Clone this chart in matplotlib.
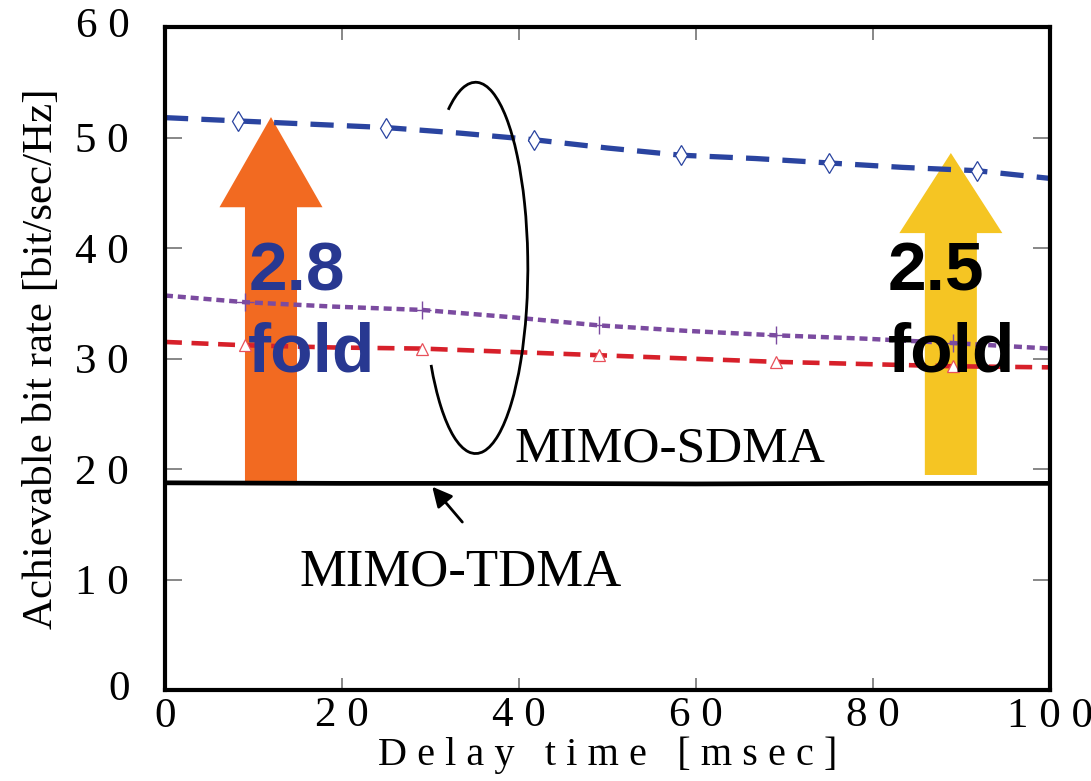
import numpy as np
import matplotlib
matplotlib.use('Agg')
import matplotlib.pyplot as plt
from matplotlib.patches import Arc, FancyArrow

plt.rcParams['font.family'] = ['Liberation Serif', 'DejaVu Serif']

# data
x_blue = [0, 8.3, 16.7, 25, 33.3, 41.7, 50, 58.3, 66.7, 75, 83.3, 91.7, 100]
y_blue = [51.8, 51.5, 51.2, 50.9, 50.4, 49.8, 49.05, 48.4, 48.1, 47.7, 47.3,
          47.0, 46.3]

x_pr = [0, 9, 19, 29, 39, 49, 59, 69, 79, 89, 100]
y_purple = [35.7, 35.1, 34.7, 34.4, 33.75, 33.0, 32.5, 32.1, 31.8, 31.4, 30.9]
y_red = [31.5, 31.2, 31.0, 30.9, 30.6, 30.3, 30.0, 29.7, 29.5, 29.3, 29.2]

x_tdma = [0, 20, 40, 60, 80, 100]
y_tdma = [18.75, 18.7, 18.7, 18.65, 18.7, 18.7]

xticks = [0, 20, 40, 60, 80, 100]
xticklabels = ['0', '2 0', '4 0', '6 0', '8 0', '1 0 0']
yticks = [0, 10, 20, 30, 40, 50, 60]
yticklabels = ['0', '1 0', '2 0', '3 0', '4 0', '5 0', '6 0']

fig = plt.figure(figsize=(10.91, 7.81), dpi=100)
ax = fig.add_axes([0.1512, 0.1165, 0.8112, 0.8489])
ax.set_xlim(0, 100)
ax.set_ylim(0, 60)

# fold arrows (behind the curves)
ax.add_patch(FancyArrow(11.98, 18.55, 0, 33.3, width=5.88, head_width=11.64,
                        head_length=8.16, length_includes_head=True,
                        color='#F26A21', lw=0, zorder=1))
ax.add_patch(FancyArrow(88.8, 19.46, 0, 29.14, width=5.88, head_width=11.64,
                        head_length=7.25, length_includes_head=True,
                        color='#F5C523', lw=0, zorder=1))

# curves
ax.plot(x_blue, y_blue, color='#2A44A0', lw=3.8, dashes=(4.4, 2.5),
        marker='d', ms=10, mfc='white', mec='#2A44A0', mew=0.9,
        markevery=slice(1, None, 2), zorder=3)
ax.plot(x_pr, y_purple, color='#7B4BA0', lw=3.2, dashes=(1.8, 1.1),
        marker='+', ms=13, mec='#7B4BA0', mew=1.0,
        markevery=slice(1, 10, 2), zorder=3)
ax.plot(x_pr, y_red, color='#D7202A', lw=3.3, dashes=(3.7, 2.1),
        marker='^', ms=9, mfc='white', mec='#E8505A', mew=0.9,
        markevery=slice(1, 10, 2), zorder=3)
ax.plot(x_tdma, y_tdma, color='black', lw=3.4, zorder=3)

# ellipse grouping the SDMA curves, open on its left side
ew, eh = 11.8, 33.6
t1, t2 = np.deg2rad(211.5), np.deg2rad(121.6)
th1 = np.rad2deg(np.arctan2(eh * np.sin(t1), ew * np.cos(t1)))
th2 = np.rad2deg(np.arctan2(eh * np.sin(t2), ew * np.cos(t2)))
ax.add_patch(Arc((35.1, 38.2), ew, eh, theta1=th1, theta2=th2,
                 color='black', lw=2.0, zorder=4))

ax.text(39.5, 20.7, 'MIMO-SDMA', fontsize=37, ha='left', va='baseline')
ax.text(15.2, 9.5, 'MIMO-TDMA', fontsize=38, ha='left', va='baseline')
ax.annotate('', xy=(30.2, 18.4), xytext=(33.6, 15.2),
            arrowprops=dict(arrowstyle='-|>', color='black', lw=2,
                            mutation_scale=30, shrinkA=0, shrinkB=0))

# fold labels
kw = dict(family='Liberation Sans', fontweight='bold', fontsize=50,
          ha='left', va='baseline', zorder=5)
ax.text(9.4, 36.2, '2.8', color='#283891', **kw)
ax.text(9.4, 28.8, 'fold', color='#283891', **kw)
ax.text(81.7, 36.2, '2.5', color='black', **kw)
ax.text(81.7, 28.8, 'fold', color='black', **kw)

# axes styling
for s in ax.spines.values():
    s.set_linewidth(3.0)
    s.set_zorder(6)
ax.set_xticks(xticks[1:-1])
ax.set_yticks(yticks[1:-1])
ax.tick_params(direction='in', length=12, width=1.2, color='0.45',
               top=True, right=True, labelsize=31)
ax.tick_params(axis='x', length=9, pad=5)
ax.tick_params(axis='y', pad=26)
ax.set_xticklabels(xticklabels[1:-1])
ax.set_yticklabels(yticklabels[1:-1])
# end labels sit outside the tick set
ax.text(0, -0.011, xticklabels[0], transform=ax.transAxes, fontsize=31,
        ha='center', va='top')
ax.text(1.0, -0.011, xticklabels[-1], transform=ax.transAxes, fontsize=31,
        ha='center', va='top')
ax.text(-0.04, 0, yticklabels[0], transform=ax.transAxes, fontsize=31,
        ha='right', va='center')
ax.text(-0.04, 1.0, yticklabels[-1], transform=ax.transAxes, fontsize=31,
        ha='right', va='center')

ax.set_xlabel('D e l a y   t i m e   [ m s e c ]', fontsize=29, labelpad=1)
ax.set_ylabel('Achievable bit rate [bit/sec/Hz]', fontsize=31, labelpad=10)

fig.savefig('out.png', dpi=100)
